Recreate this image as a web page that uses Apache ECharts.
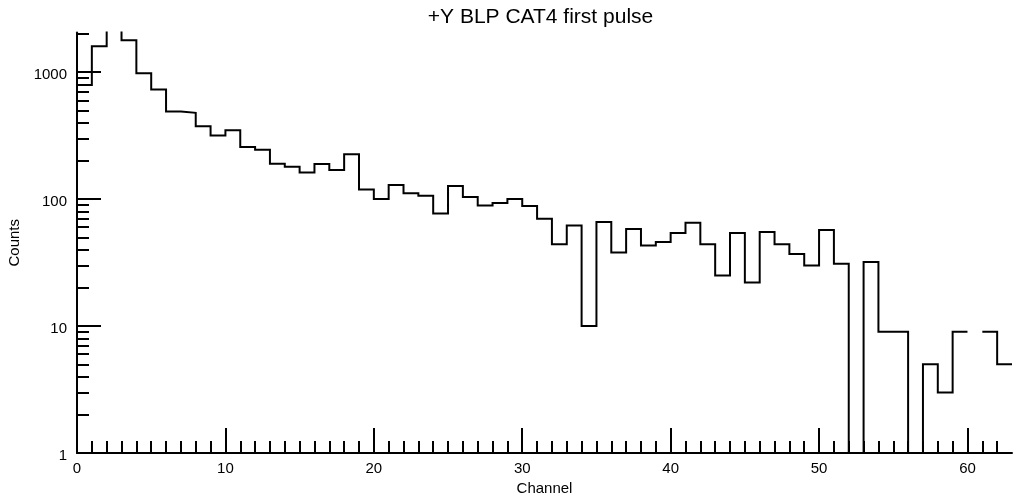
<!DOCTYPE html>
<html>
<head>
<meta charset="utf-8">
<title>+Y BLP CAT4 first pulse</title>
<script src="https://cdn.jsdelivr.net/npm/echarts@6/dist/echarts.min.js"></script>
<style>
  html, body { margin: 0; padding: 0; background: #fff; }
  #chart { width: 1016px; height: 501px; }
</style>
</head>
<body>
<div id="chart"></div>
<script>
// Histogram contents: one entry per unit-wide channel bin (0..62)
const titleText = '+Y BLP CAT4 first pulse';
const xName = 'Channel';
const yName = 'Counts';
const binEdgesMin = 0;
const binEdgesMax = 63;
const counts = [
  790, 1600, 2400, 1780, 980, 730, 490, 478, 374, 317,
  348, 257, 245, 190, 180, 162, 189, 169, 225, 119,
  100, 129, 111, 106, 77, 127, 104, 89, 93, 100,
  88, 70, 44, 62, 10, 66, 38, 58, 43, 46,
  54, 65, 44, 25, 54, 22, 55, 44, 37, 30,
  57, 31, 1, 32, 9, 9, 1, 5, 3, 9,
  0, 9, 5
];
const yMin = 1;
const yMax = 2050;

// Tick positions
const xMajorTicks = [0, 10, 20, 30, 40, 50, 60];
const xMinorTicks = [];
for (let c = 1; c < binEdgesMax; c++) if (c % 10 !== 0) xMinorTicks.push(c);
const yMajorTicks = [1, 10, 100, 1000];
const yMinorTicks = [2, 3, 4, 5, 6, 7, 8, 9, 20, 30, 40, 50, 60, 70, 80, 90,
                     200, 300, 400, 500, 600, 700, 800, 900, 2000];

// Build the step outline: each filled bin contributes its left and right corner;
// empty bins break the line, as on a log scale they have no height to draw.
const outline = [];
counts.forEach((v, i) => {
  if (v > 0) {
    outline.push([i, v], [i + 1, v]);
  } else {
    outline.push([i + 0.5, null]);
  }
});

const font = 'Liberation Sans, Arial, Helvetica, sans-serif';
const ink = '#000';
const plain = v => String(Math.round(v));

const chart = echarts.init(document.getElementById('chart'), null, { renderer: 'canvas' });
chart.setOption({
  animation: false,
  backgroundColor: '#fff',
  textStyle: { fontFamily: font, color: ink },
  grid: { left: 77, right: 4, top: 32.5, bottom: 48, containLabel: false, outerBoundsMode: 'none' },
  graphic: [{
    type: 'text',
    x: 540.5,
    y: 17,
    style: {
      text: titleText,
      fill: ink,
      font: '21px ' + font,
      textAlign: 'center',
      textVerticalAlign: 'middle'
    }
  }],
  xAxis: [{
    type: 'value',
    min: binEdgesMin,
    max: binEdgesMax,
    position: 'bottom',
    name: xName,
    nameLocation: 'middle',
    nameGap: 21,
    nameTextStyle: { fontSize: 15, color: ink, fontFamily: font },
    axisLine: { show: true, onZero: false, lineStyle: { color: ink, width: 2 } },
    axisTick: { show: true, inside: true, length: 25, customValues: xMajorTicks, lineStyle: { color: ink, width: 2 } },
    axisLabel: { show: true, customValues: xMajorTicks, formatter: plain, fontSize: 15, color: ink, fontFamily: font, margin: 8 },
    splitLine: { show: false }
  }, {
    type: 'value',
    min: binEdgesMin,
    max: binEdgesMax,
    position: 'bottom',
    axisLine: { show: false, onZero: false },
    axisTick: { show: true, inside: true, length: 12, customValues: xMinorTicks, lineStyle: { color: ink, width: 2 } },
    axisLabel: { show: false },
    splitLine: { show: false }
  }],
  yAxis: [{
    type: 'log',
    logBase: 10,
    min: yMin,
    max: yMax,
    position: 'left',
    name: yName,
    nameLocation: 'middle',
    nameGap: 47,
    nameTextStyle: { fontSize: 15, color: ink, fontFamily: font },
    axisLine: { show: true, onZero: false, lineStyle: { color: ink, width: 2 } },
    axisTick: { show: true, inside: true, length: 24, customValues: yMajorTicks, lineStyle: { color: ink, width: 2 } },
    axisLabel: { show: true, customValues: yMajorTicks, formatter: plain, fontSize: 15, color: ink, fontFamily: font, margin: 10, verticalAlign: 'top', lineHeight: 5 },
    splitLine: { show: false }
  }, {
    type: 'log',
    logBase: 10,
    min: yMin,
    max: yMax,
    position: 'left',
    axisLine: { show: false, onZero: false },
    axisTick: { show: true, inside: true, length: 12, customValues: yMinorTicks, lineStyle: { color: ink, width: 2 } },
    axisLabel: { show: false },
    splitLine: { show: false }
  }],
  series: [{
    type: 'line',
    xAxisIndex: 0,
    yAxisIndex: 0,
    data: outline,
    showSymbol: false,
    symbol: 'none',
    connectNulls: false,
    clip: true,
    lineStyle: { color: ink, width: 2, join: 'miter', cap: 'butt' }
  }]
});
</script>
</body>
</html>
